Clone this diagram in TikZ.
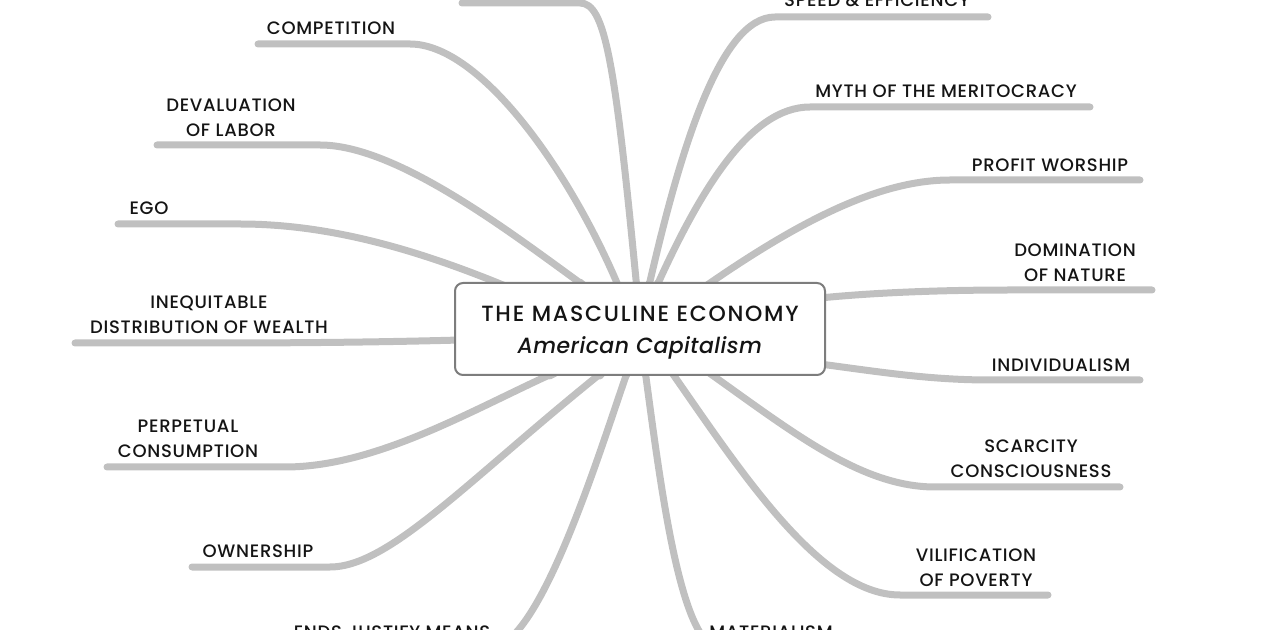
\documentclass[tikz,border=0pt]{standalone}
\usepackage{fontspec}
\setmainfont{Poppins}[UprightFont={* Medium}, ItalicFont={* Medium Italic}, LetterSpace=4]
\usetikzlibrary{backgrounds}
\definecolor{branchG}{RGB}{192,192,192}
\definecolor{edgeG}{RGB}{125,125,125}
\definecolor{inkK}{RGB}{20,20,20}

\tikzset{
  branch/.style={line width=3.5pt, branchG, line cap=round, line join=round},
  lbl/.style={font=\fontsize{9}{12.5}\selectfont, text=inkK, align=center,
    anchor=south, inner sep=0pt},
  hubbox/.style={draw=edgeG, line width=1pt, fill=white, rounded corners=4pt,
    minimum width=185pt, minimum height=46pt, inner sep=0pt},
  hubtext/.style={align=center, inner sep=0pt, text=inkK, font=\fontsize{11}{16}\selectfont},
}

\begin{document}
\begin{tikzpicture}[x=0.5pt, y=-0.5pt]
  % frame of the reference: 1280 x 630 px, y grows downward
  \useasboundingbox (0,0) rectangle (1280,630);
  \node[hubbox] (econ) at (640,329) {};
  \node[hubtext] (econT) at (640,332.5)
    {\addfontfeatures{LetterSpace=8}THE MASCULINE ECONOMY\\
     \addfontfeatures{LetterSpace=2}\textit{American Capitalism}};

  % labels, set on their underlines
  \node[lbl] (compL) at (331,35) {COMPETITION};
  \node[lbl] (devL) at (231,137) {DEVALUATION\\OF LABOR};
  \node[lbl] (egoL) at (149,215) {EGO};
  \node[lbl] (ineqL) at (209,334) {INEQUITABLE\\DISTRIBUTION OF WEALTH};
  \node[lbl] (perpL) at (188,458) {PERPETUAL\\CONSUMPTION};
  \node[lbl] (ownL) at (258,558) {OWNERSHIP};
  \node[lbl] (endsL) at (392,639) {ENDS JUSTIFY MEANS};
  \node[lbl] (matL) at (771,639) {MATERIALISM};
  \node[lbl] (speedL) at (877,7) {SPEED \& EFFICIENCY};
  \node[lbl] (mythL) at (946,98) {MYTH OF THE MERITOCRACY};
  \node[lbl] (profL) at (1050,172) {PROFIT WORSHIP};
  \node[lbl] (domL) at (1075,282) {DOMINATION\\OF NATURE};
  \node[lbl] (indL) at (1061,372) {INDIVIDUALISM};
  \node[lbl] (scarL) at (1031,478) {SCARCITY\\CONSCIOUSNESS};
  \node[lbl] (vilL) at (976,587) {VILIFICATION\\OF POVERTY};

  % branches run from under the box out to the underlines
  \begin{scope}[on background layer]
    % upper left
    \draw[branch] (econ) -- (637,290) .. controls (615,60) and (605,3) .. (580,3) -- (462,3) coordinate (topE);
    \draw[branch] (econ) -- (620,290) .. controls (570,170) and (480,44) .. (410,44) -- (258,44) coordinate (compE);
    \draw[branch] (econ) -- (590,290) .. controls (520,240) and (400,145) .. (320,145) -- (157,145) coordinate (devE);
    \draw[branch] (econ) -- (515,290) .. controls (420,250) and (330,224) .. (240,224) -- (118,224) coordinate (egoE);
    % left
    \draw[branch] (econ) -- (460,340) .. controls (350,343) and (250,343) .. (200,343) -- (75,343) coordinate (ineqE);
    % lower left
    \draw[branch] (econ) -- (565,368) .. controls (480,405) and (380,467) .. (285,467) -- (107,467) coordinate (perpE);
    \draw[branch] (econ) -- (605,370) .. controls (470,478) and (390,567) .. (330,567) -- (192,567) coordinate (ownE);
    \draw[branch] (econ) -- (628,370) .. controls (600,450) and (540,648) .. (490,648) -- (290,648) coordinate (endsE);
    % lower right
    \draw[branch] (econ) -- (645,370) .. controls (660,480) and (680,648) .. (720,648) -- (850,648) coordinate (matE);
    \draw[branch] (econ) -- (670,370) .. controls (740,470) and (820,595) .. (900,595) -- (1048,595) coordinate (vilE);
    \draw[branch] (econ) -- (705,370) .. controls (790,430) and (860,487) .. (935,487) -- (1120,487) coordinate (scarE);
    % right
    \draw[branch] (econ) -- (820,364) .. controls (880,372) and (930,380) .. (990,380) -- (1140,380) coordinate (indE);
    \draw[branch] (econ) -- (820,298) .. controls (880,292) and (950,290) .. (1010,290) -- (1152,290) coordinate (domE);
    % upper right
    \draw[branch] (econ) -- (700,290) .. controls (800,220) and (880,180) .. (950,180) -- (1140,180) coordinate (profE);
    \draw[branch] (econ) -- (655,290) .. controls (700,190) and (750,107) .. (810,107) -- (1090,107) coordinate (mythE);
    \draw[branch] (econ) -- (648,290) .. controls (680,150) and (720,17) .. (775,17) -- (988,17) coordinate (speedE);
  \end{scope}
\end{tikzpicture}
\end{document}
